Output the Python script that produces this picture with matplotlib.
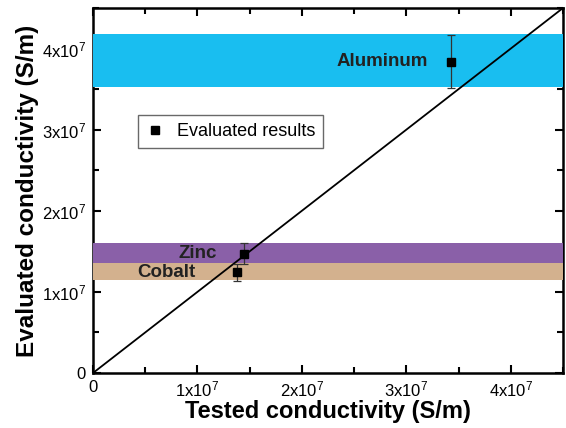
import matplotlib
matplotlib.use('Agg')
import matplotlib.pyplot as plt
from matplotlib.lines import Line2D
from matplotlib.ticker import MultipleLocator, FuncFormatter

plt.rcParams['font.family'] = ['Liberation Sans', 'DejaVu Sans']
plt.rcParams['mathtext.fontset'] = 'custom'
plt.rcParams['mathtext.rm'] = 'Liberation Sans'

# data
metals      = ['Aluminum', 'Zinc', 'Cobalt']
tested      = [3.43e7, 1.445e7, 1.38e7]
evaluated   = [3.84e7, 1.47e7, 1.24e7]
eval_err    = [0.33e7, 0.13e7, 0.11e7]
band_low    = [3.52e7, 1.355e7, 1.15e7]
band_high   = [4.18e7, 1.60e7, 1.355e7]
band_colors = ['#19bef0', '#8a60a8', '#d3b18e']
axis_max    = 4.5e7

# label offsets (in data units) left of each point
label_dx = [0.22e7, 0.26e7, 0.40e7]

fig = plt.figure(figsize=(5.66, 4.28), dpi=100)
ax = fig.add_axes([0.1643, 0.1285, 0.8304, 0.8528])

for lo, hi, c in zip(band_low, band_high, band_colors):
    ax.axhspan(lo, hi, color=c, zorder=3, lw=0)

ax.plot([0, axis_max], [0, axis_max], color='black', lw=1.3, zorder=4)

ax.errorbar(tested, evaluated, yerr=eval_err, fmt='s', color='black', ms=6,
            ecolor='#333333', elinewidth=0.9, capsize=3, capthick=0.9, zorder=5)

for name, x, y, dx in zip(metals, tested, evaluated, label_dx):
    ax.text(x - dx, y, name, ha='right', va='center',
            fontsize=13.5, fontweight='bold', color='#222222', zorder=6)

ax.set_xlim(0, axis_max)
ax.set_ylim(0, axis_max)

def sci_fmt(v, pos):
    if v == 0:
        return '0'
    return r'$\mathregular{%dx10^{7}}$' % round(v / 1e7)

for a in (ax.xaxis, ax.yaxis):
    a.set_major_locator(MultipleLocator(1e7))
    a.set_minor_locator(MultipleLocator(0.5e7))
    a.set_major_formatter(FuncFormatter(sci_fmt))

ax.tick_params(which='both', direction='in', top=True, right=True, width=1.5,
               labelsize=12, pad=5)
ax.tick_params(which='major', length=6)
ax.tick_params(which='minor', length=4)
for s in ax.spines.values():
    s.set_linewidth(1.8)

ax.set_xlabel('Tested conductivity (S/m)', fontsize=17, fontweight='bold', labelpad=0)
ax.set_ylabel('Evaluated conductivity (S/m)', fontsize=17.5, fontweight='bold', labelpad=2)

handle = Line2D([], [], marker='s', color='black', ls='none', ms=6)
leg = ax.legend([handle], ['Evaluated results'], loc='upper left',
                bbox_to_anchor=(0.096, 0.707), borderaxespad=0, fontsize=13,
                frameon=True, fancybox=False, edgecolor='#444444',
                handletextpad=0.7, handlelength=1.0, borderpad=0.45)
leg.get_frame().set_linewidth(1.0)
leg.set_zorder(7)

fig.savefig('out.png', dpi=100)
